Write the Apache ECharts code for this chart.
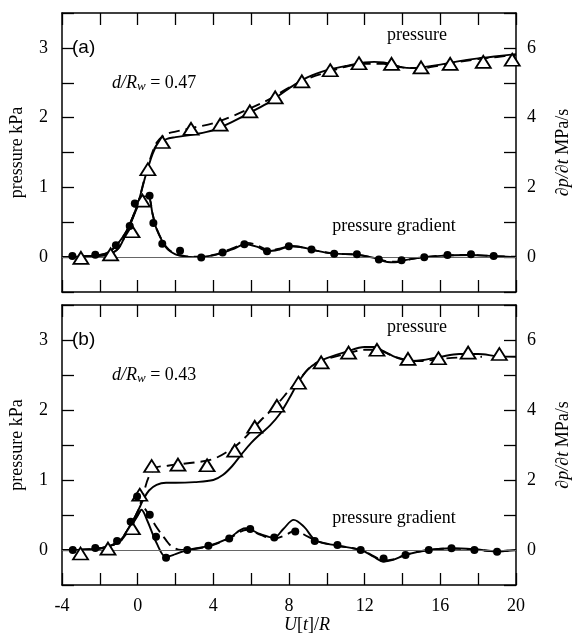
<!DOCTYPE html>
<html>
<head>
<meta charset="utf-8">
<script src="https://cdn.jsdelivr.net/npm/echarts@6/dist/echarts.min.js"></script>
<style>
html,body{margin:0;padding:0;background:#fff;}
#chart{width:580px;height:637px;}
</style>
</head>
<body>
<div id="chart"></div>
<script>
// ---------- data (x = U[t]/R) ----------
// panel (a): pressure in kPa (left axis)
const aPressureSolid = [[-4,0],[-3,0],[-2,0.02],[-1.5,0.04],[-1,0.13],[-0.5,0.42],[0,0.76],[0.5,1.24],[1,1.6],[1.5,1.69],[2,1.72],[3,1.76],[4,1.82],[5,1.94],[6,2.08],[7,2.23],[8,2.42],[9,2.58],[10,2.68],[11,2.74],[12,2.79],[12.5,2.8],[13,2.79],[13.5,2.76],[14,2.72],[14.5,2.71],[15,2.72],[16,2.76],[17,2.81],[18,2.85],[19,2.88],[20,2.91]];
const aPressureDashed = [[-4,0],[-2,0.02],[-1.5,0.04],[-1,0.13],[-0.5,0.42],[0,0.76],[0.5,1.26],[1,1.64],[1.5,1.76],[2,1.8],[3,1.86],[4,1.92],[5,2.02],[6,2.14],[7,2.27],[8,2.43],[9,2.56],[10,2.65],[11,2.73],[12,2.77],[13,2.77],[14,2.72],[15,2.71],[16,2.75],[17,2.8],[18,2.84],[19,2.87],[20,2.9]];
const aPressureTri = [[-3,-0.01],[-1.43,0.04],[-0.3,0.37],[0.25,0.81],[0.54,1.26],[1.3,1.65],[2.82,1.84],[4.36,1.9],[5.93,2.09],[7.27,2.29],[8.68,2.52],[10.18,2.68],[11.7,2.78],[13.42,2.77],[14.98,2.72],[16.52,2.77],[18.27,2.8],[19.8,2.83]];
// panel (a): pressure gradient in MPa/s (right axis)
const aGradSolid = [[-4,0],[-3,0.02],[-2,0.06],[-1.5,0.15],[-1,0.42],[-0.5,0.82],[0,1.45],[0.3,1.72],[0.55,1.75],[0.8,1.2],[1,0.8],[1.5,0.28],[2,0.08],[2.5,0.02],[3,0],[4,0.05],[5,0.22],[5.7,0.37],[6.3,0.3],[6.9,0.17],[7.5,0.22],[8.1,0.31],[8.8,0.27],[9.5,0.18],[10.4,0.1],[11.6,0.07],[12.5,-0.02],[13.2,-0.14],[13.6,-0.15],[14.2,-0.08],[15.2,0],[16.4,0.05],[17.6,0.06],[18.8,0.03],[20,0]];
const aGradDashed = [[-4,0],[-3,0.02],[-2,0.06],[-1.5,0.15],[-1,0.42],[-0.5,0.84],[0,1.48],[0.3,1.74],[0.55,1.76],[0.8,1.22],[1,0.82],[1.5,0.3],[2,0.09],[2.5,0.03],[3,0.01],[4,0.06],[5,0.25],[5.8,0.41],[6.4,0.32],[6.9,0.2],[7.5,0.24],[8.1,0.32],[8.8,0.27],[9.5,0.18],[10.4,0.1],[11.6,0.07],[12.5,-0.03],[13.2,-0.12],[13.7,-0.13],[14.2,-0.08],[15.2,0],[16.4,0.05],[17.6,0.06],[18.8,0.03],[20,0.01]];
const aGradDots = [[-3.45,0.03],[-2.24,0.07],[-1.15,0.34],[-0.42,0.89],[-0.15,1.54],[0.63,1.76],[0.83,0.98],[1.3,0.38],[2.24,0.18],[3.36,-0.01],[4.49,0.13],[5.64,0.37],[6.84,0.17],[7.99,0.31],[9.19,0.22],[10.39,0.1],[11.59,0.08],[12.75,-0.07],[13.95,-0.09],[15.15,0],[16.38,0.06],[17.62,0.08],[18.82,0.03]];

// panel (b)
const bPressureSolid = [[-4,0],[-3,0],[-2,0.02],[-1,0.12],[-0.5,0.3],[0,0.55],[0.3,0.72],[0.6,0.85],[1,0.93],[1.5,0.96],[2,0.96],[3,0.97],[4,1.0],[4.5,1.07],[5,1.2],[5.5,1.37],[6,1.53],[6.5,1.66],[7,1.78],[7.5,1.94],[8,2.16],[8.5,2.4],[9,2.58],[9.5,2.68],[10,2.74],[11,2.83],[12,2.9],[12.5,2.9],[13,2.84],[13.5,2.77],[14,2.72],[14.5,2.7],[15,2.71],[16,2.76],[17,2.8],[18,2.8],[19,2.77],[20,2.76]];
const bPressureDashed = [[-4,0],[-2,0.02],[-1,0.12],[-0.5,0.3],[0,0.55],[0.3,0.8],[0.6,1.05],[1,1.18],[1.5,1.2],[2,1.22],[3,1.25],[4,1.3],[5,1.45],[5.5,1.56],[6,1.7],[6.5,1.85],[7,1.98],[7.5,2.12],[8,2.28],[8.5,2.42],[9,2.58],[9.5,2.68],[10,2.73],[11,2.8],[12,2.86],[12.5,2.86],[13,2.83],[13.5,2.77],[14,2.73],[14.5,2.7],[15,2.7],[16,2.73],[17,2.75],[18.2,2.76]];
const bPressureTri = [[-3.02,-0.05],[-1.57,0.02],[-0.28,0.31],[0.11,0.79],[0.74,1.2],[2.13,1.22],[3.67,1.21],[5.13,1.42],[6.19,1.76],[7.36,2.06],[8.5,2.39],[9.7,2.68],[11.15,2.82],[12.65,2.86],[14.29,2.73],[15.9,2.74],[17.47,2.82],[19.12,2.8]];
const bGradSolid = [[-4,0],[-3,0.01],[-2,0.05],[-1,0.22],[-0.5,0.55],[0,0.98],[0.2,1.15],[0.5,0.85],[1,0.2],[1.5,-0.2],[2,-0.12],[2.6,0],[3.7,0.11],[4.8,0.33],[5.7,0.62],[6.5,0.45],[7.2,0.35],[7.7,0.6],[8.25,0.86],[8.8,0.66],[9.4,0.28],[10.5,0.13],[11.8,0],[12.5,-0.2],[13,-0.33],[13.5,-0.28],[14.2,-0.13],[15.4,0],[16.6,0.05],[17.8,0.02],[19,-0.04],[20,0]];
const bGradDashed = [[-4,0],[-3,0.01],[-2,0.05],[-1,0.22],[-0.5,0.55],[0,1.0],[0.3,1.2],[0.6,1.0],[1,0.65],[1.5,0.28],[1.8,0.1],[2.3,0],[3.7,0.1],[4.8,0.32],[5.8,0.58],[6.5,0.43],[7.2,0.32],[7.8,0.42],[8.3,0.55],[9,0.38],[9.5,0.25],[10.5,0.13],[11.8,0],[12.5,-0.18],[13,-0.3],[13.5,-0.27],[14.2,-0.13],[15.4,0],[16.6,0.04],[17.8,0.01],[19,-0.04],[19.6,-0.02]];
const bGradDots = [[-3.43,0],[-2.24,0.06],[-1.09,0.26],[-0.37,0.81],[-0.03,1.53],[0.64,1.01],[0.97,0.38],[1.5,-0.22],[2.62,0],[3.74,0.12],[4.84,0.33],[5.95,0.6],[7.22,0.36],[8.33,0.53],[9.36,0.26],[10.56,0.14],[11.79,0],[13,-0.24],[14.16,-0.14],[15.39,0],[16.59,0.05],[17.8,0],[19,-0.05]];

const xTicks = {min:-4, max:20, step:2, labelStep:4};
const pTicks = {min:-0.5, max:3.5, step:0.5};
const gTicks = {min:-1, max:7, step:1};
const panelLabels = ['(a)', '(b)'];
const ratioLabels = ['0.47', '0.43'];

// ---------- chart ----------
const SERIF = '"Liberation Serif", "DejaVu Serif", serif';
const SANS = '"Liberation Sans", Arial, sans-serif';
const chart = echarts.init(document.getElementById('chart'), null, {renderer:'canvas'});

const grids = [
  {left:60, top:13, width:467, height:279},
  {left:60, top:305, width:467, height:280}
];

const axLine = {show:true, onZero:false, lineStyle:{color:'#000', width:1.5}};
const tick = {show:true, inside:true, length:12, lineStyle:{color:'#000', width:1.3}};

function xAx(gi, pos, showLabel) {
  return {
    type:'value', gridIndex:gi, position:pos,
    min:xTicks.min, max:xTicks.max, interval:xTicks.step,
    axisLine:axLine, axisTick:tick, splitLine:{show:false},
    axisLabel:{show:showLabel, margin:12, color:'#000', fontFamily:SERIF, fontSize:18,
      formatter:v => (v % xTicks.labelStep === 0 ? String(v) : '')},
    name: showLabel ? '{i|U}[{i|t}]/{i|R}' : '',
    nameLocation:'middle', nameGap:30,
    nameTextStyle:{color:'#000', fontFamily:SERIF, fontSize:18, padding:[0,0,0,36],
      rich:{i:{fontStyle:'italic', fontFamily:SERIF, fontSize:18, color:'#000'}}}
  };
}
function yLeft(gi) {
  return {
    type:'value', gridIndex:gi, position:'left',
    min:pTicks.min, max:pTicks.max, interval:pTicks.step,
    axisLine:axLine, axisTick:tick, splitLine:{show:false},
    axisLabel:{margin:14, color:'#000', fontFamily:SERIF, fontSize:18,
      formatter:v => (Number.isInteger(v) ? String(v) : '')},
    name:'pressure kPa', nameLocation:'middle', nameGap:36, nameRotate:90,
    nameTextStyle:{color:'#000', fontFamily:SERIF, fontSize:18}
  };
}
function yRight(gi) {
  return {
    type:'value', gridIndex:gi, position:'right',
    min:gTicks.min, max:gTicks.max, interval:gTicks.step,
    axisLine:axLine, axisTick:tick, splitLine:{show:false},
    axisLabel:{margin:11, color:'#000', fontFamily:SERIF, fontSize:18,
      formatter:v => (v % 2 === 0 && v >= 0 && v <= 6 ? String(v) : '')},
    name:'{i|∂p/∂t} MPa/s', nameLocation:'middle', nameGap:38, nameRotate:90,
    nameTextStyle:{color:'#000', fontFamily:SERIF, fontSize:18,
      rich:{i:{fontStyle:'italic', fontFamily:SERIF, fontSize:18, color:'#000'}}}
  };
}

function lineSeries(data, xi, yi, dashed, extra) {
  return Object.assign({
    type:'line', data:data, xAxisIndex:xi, yAxisIndex:yi,
    showSymbol:false, smooth:0.35, silent:true, z:3,
    lineStyle:{color:'#000', width:1.9, opacity:1, type: dashed ? [11,6] : 'solid'}
  }, extra || {});
}
function triSeries(data, xi, yi) {
  return {type:'scatter', data:data, xAxisIndex:xi, yAxisIndex:yi, symbol:'triangle',
    symbolSize:[15,12], silent:true, z:5,
    itemStyle:{color:'#fff', borderColor:'#000', borderWidth:1.8, opacity:1}};
}
function dotSeries(data, xi, yi) {
  return {type:'scatter', data:data, xAxisIndex:xi, yAxisIndex:yi, symbol:'circle',
    symbolSize:8, silent:true, z:5, itemStyle:{color:'#000', opacity:1}};
}
const zeroLine = {silent:true, symbol:'none', label:{show:false},
  lineStyle:{color:'#666', width:1, type:'solid'}, data:[{yAxis:0}]};

const panels = [
  {ps:aPressureSolid, pd:aPressureDashed, pt:aPressureTri, gs:aGradSolid, gd:aGradDashed, gt:aGradDots},
  {ps:bPressureSolid, pd:bPressureDashed, pt:bPressureTri, gs:bGradSolid, gd:bGradDashed, gt:bGradDots}
];

const series = [];
panels.forEach((p, gi) => {
  const xi = gi*2, yl = gi*2, yr = gi*2+1;
  series.push(lineSeries(p.ps, xi, yl, false, {markLine:zeroLine, z:2}));
  series.push(lineSeries(p.pd, xi, yl, true));
  series.push(triSeries(p.pt, xi, yl));
  series.push(lineSeries(p.gs, xi, yr, false));
  series.push(lineSeries(p.gd, xi, yr, true));
  series.push(dotSeries(p.gt, xi, yr));
});

const graphics = [];
grids.forEach((g, gi) => {
  graphics.push({type:'text', x:g.left+12, y:g.top+35, style:{text:panelLabels[gi], font:'19px '+SANS, fill:'#000', textVerticalAlign:'middle'}});
  graphics.push({type:'text', x:g.left+52, y:g.top+70, style:{
    text:'{i|d/R}{s|w}{n| = '+ratioLabels[gi]+'}', textVerticalAlign:'middle', fill:'#000',
    rich:{i:{fontStyle:'italic', fontFamily:SERIF, fontSize:18, fill:'#000'},
          s:{fontStyle:'italic', fontFamily:SERIF, fontSize:13, fill:'#000', padding:[8,0,0,0]},
          n:{fontFamily:SERIF, fontSize:18, fill:'#000'}}}});
  graphics.push({type:'text', x:417, y:g.top+22, style:{text:'pressure', font:'18px '+SERIF, fill:'#000', textAlign:'center', textVerticalAlign:'middle'}});
  graphics.push({type:'text', x:394, y:g.top+213, style:{text:'pressure gradient', font:'18px '+SERIF, fill:'#000', textAlign:'center', textVerticalAlign:'middle'}});
});

chart.setOption({
  animation:false,
  backgroundColor:'#fff',
  grid:grids,
  xAxis:[xAx(0,'bottom',false), xAx(0,'top',false), xAx(1,'bottom',true), xAx(1,'top',false)],
  yAxis:[yLeft(0), yRight(0), yLeft(1), yRight(1)],
  series:series,
  graphic:graphics
});
</script>
</body>
</html>
